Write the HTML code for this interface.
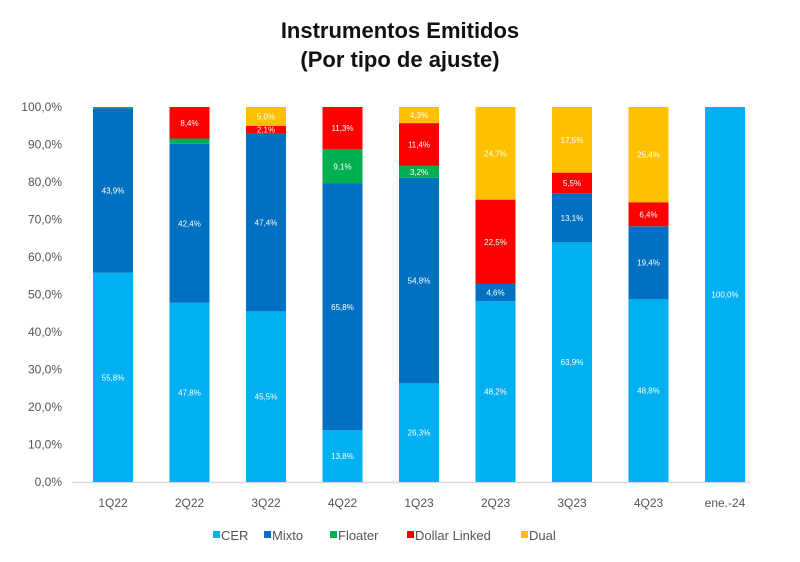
<!DOCTYPE html>
<html><head><meta charset="utf-8"><style>
body{margin:0;background:#fff;}
svg text{font-family:"Liberation Sans",sans-serif;}
</style></head><body>
<svg width="800" height="557" viewBox="0 0 800 557">
<text x="400" y="38" text-anchor="middle" font-size="22" font-weight="bold" fill="#111">Instrumentos Emitidos</text>
<text x="400" y="67" text-anchor="middle" font-size="22" font-weight="bold" fill="#111">(Por tipo de ajuste)</text>
<g id="yaxis"></g>
<line x1="72" y1="482.5" x2="750" y2="482.5" stroke="#d9d9d9" stroke-width="1.5"/>
<g id="bars"></g>
<g id="xlabels"></g>
<g id="legend"></g>
</svg>
<script>
const categories=["1Q22","2Q22","3Q22","4Q22","1Q23","2Q23","3Q23","4Q23","ene.-24"];
const seriesNames=["CER","Mixto","Floater","Dollar Linked","Dual"];
const cer=[55.8,47.8,45.5,13.8,26.3,48.2,63.9,48.8,100.0];
const mixto=[43.9,42.4,47.4,65.8,54.8,4.6,13.1,19.4,0];
const floater=[0.3,1.4,0,9.1,3.2,0,0,0,0];
const dollarLinked=[0,8.4,2.1,11.3,11.4,22.5,5.5,6.4,0];
const dual=[0,0,5.0,0,4.3,24.7,17.5,25.4,0];
const yTicks=[0,10,20,30,40,50,60,70,80,90,100];
const colors=["#00B0F0","#0070C0","#00B050","#FF0000","#FFC000"];
const legendX=[213,264,330,407,521];
const series=[cer,mixto,floater,dollarLinked,dual];
const NS="http://www.w3.org/2000/svg";
const y0=482,y100=107;
function yScale(v){return y0-(y0-y100)*v/100;}
function xScale(i){return 93+i*76.5;}
const bw=40;
function fmt(v){return v.toFixed(1).replace('.',',')+'%';}
function mk(tag,attrs,parent){const e=document.createElementNS(NS,tag);for(const k in attrs)e.setAttribute(k,attrs[k]);parent.appendChild(e);return e;}
const ya=document.getElementById('yaxis');
yTicks.forEach(t=>{
  const e=mk('text',{x:62,y:yScale(t)+4,'text-anchor':'end','font-size':12,fill:'#555'},ya);
  
  
  e.textContent=fmt(t);
});
const bars=document.getElementById('bars');
categories.forEach((c,i)=>{
  let acc=0;
  series.forEach((s,k)=>{
    const v=s[i]; if(!v) return;
    const yt=yScale(acc+v), yb=yScale(acc);
    const r=mk('rect',{x:xScale(i),y:yt,width:bw,height:yb-yt,fill:colors[k]},bars);
    
    
    if(v>=2){
      const t=mk('text',{x:xScale(i)+bw/2,y:(yt+yb)/2+3,'text-anchor':'middle','font-size':8,fill:'#fff'},bars);
      
      
      t.textContent=fmt(v);
    }
    acc+=v;
  });
  const xl=mk('text',{x:xScale(i)+bw/2,y:507,'text-anchor':'middle','font-size':12,fill:'#555'},document.getElementById('xlabels'));
  
  
  xl.textContent=c;
});
const lg=document.getElementById('legend');
seriesNames.forEach((n,k)=>{
  const lx=legendX[k];
  const g=mk('g',{},lg);
  
  
  mk('rect',{x:lx,y:531,width:7,height:7,fill:colors[k]},g);
  const t=mk('text',{x:lx+8,y:540,'font-size':13,fill:'#555'},g);
  t.textContent=n;
});
</script>
</body></html>
